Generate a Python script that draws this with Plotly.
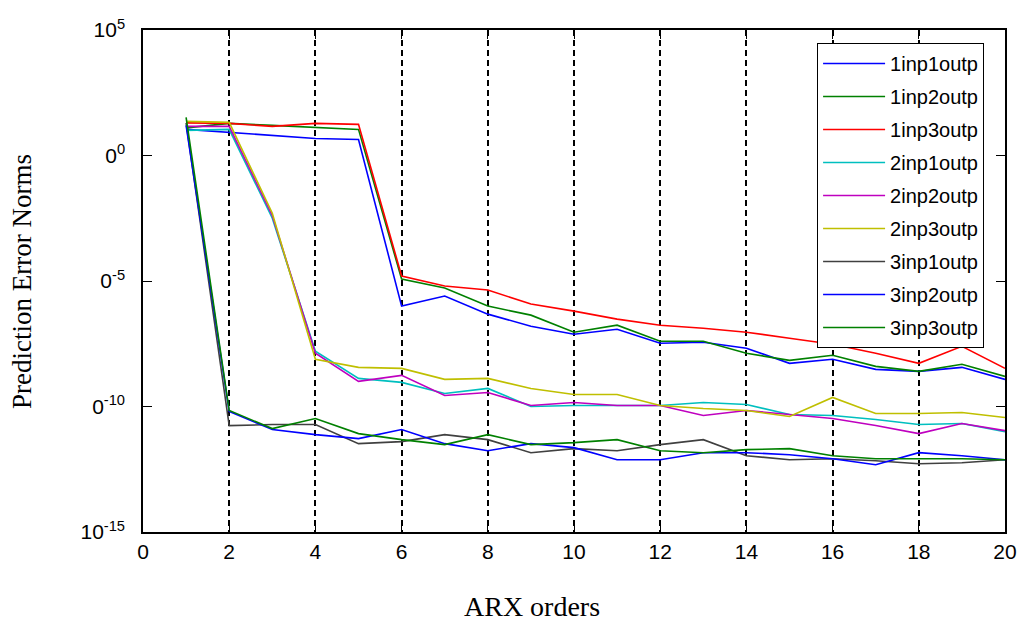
import numpy as np
import plotly.graph_objects as go

# ARX orders
orders = list(range(1, 21))

# log10 of prediction error norms
log_1inp1outp = [1.04, 0.92, 0.80, 0.68, 0.64, -6.00, -5.60, -6.32, -6.80, -7.12,
                 -6.92, -7.48, -7.44, -7.68, -8.28, -8.12, -8.52, -8.60, -8.44, -8.92]
log_1inp2outp = [1.10, 1.28, 1.20, 1.12, 1.04, -4.92, -5.28, -6.00, -6.36, -7.04,
                 -6.76, -7.40, -7.40, -7.88, -8.16, -7.96, -8.40, -8.60, -8.32, -8.80]
log_1inp3outp = [1.30, 1.28, 1.16, 1.28, 1.24, -4.80, -5.20, -5.36, -5.92, -6.20,
                 -6.52, -6.76, -6.88, -7.04, -7.28, -7.52, -7.88, -8.28, -7.60, -8.48]
log_2inp1outp = [1.00, 1.04, -2.50, -7.80, -8.88, -9.04, -9.48, -9.28, -10.00, -9.96,
                 -9.96, -9.96, -9.84, -9.92, -10.32, -10.36, -10.52, -10.72, -10.68, -11.00]
log_2inp2outp = [1.16, 1.16, -2.40, -7.88, -9.00, -8.76, -9.56, -9.44, -9.96, -9.84,
                 -9.96, -9.96, -10.36, -10.16, -10.32, -10.48, -10.76, -11.08, -10.68, -10.96]
log_2inp3outp = [1.36, 1.32, -2.30, -8.12, -8.44, -8.48, -8.92, -8.88, -9.28, -9.52,
                 -9.52, -9.96, -10.08, -10.16, -10.40, -9.64, -10.28, -10.28, -10.24, -10.44]
log_3inp1outp = [1.30, -10.76, -10.72, -10.72, -11.48, -11.40, -11.12, -11.32, -11.84, -11.68,
                 -11.76, -11.52, -11.32, -11.96, -12.12, -12.08, -12.16, -12.28, -12.24, -12.12]
log_3inp2outp = [1.20, -10.20, -10.92, -11.12, -11.28, -10.92, -11.48, -11.76, -11.48, -11.64,
                 -12.12, -12.12, -11.84, -11.84, -11.92, -12.08, -12.32, -11.84, -11.96, -12.12]
log_3inp3outp = [1.52, -10.16, -10.88, -10.48, -11.08, -11.32, -11.52, -11.12, -11.52, -11.44,
                 -11.32, -11.76, -11.84, -11.72, -11.68, -11.96, -12.08, -12.08, -12.08, -12.12]

series_names = ["1inp1outp", "1inp2outp", "1inp3outp", "2inp1outp", "2inp2outp",
                "2inp3outp", "3inp1outp", "3inp2outp", "3inp3outp"]
series_logs = [log_1inp1outp, log_1inp2outp, log_1inp3outp, log_2inp1outp, log_2inp2outp,
               log_2inp3outp, log_3inp1outp, log_3inp2outp, log_3inp3outp]
series_colors = ["#0000FF", "#008000", "#FF0000", "#00BFBF", "#BF00BF",
                 "#BFBF00", "#404040", "#0000FF", "#008000"]

y_tickvals = [1e5, 1e0, 1e-5, 1e-10, 1e-15]
y_ticktext = ["10<sup>5</sup>", "0<sup>0</sup>", "0<sup>-5</sup>", "0<sup>-10</sup>", "10<sup>-15</sup>"]
x_tickvals = list(range(0, 21, 2))

sans = "Liberation Sans, Arial, sans-serif"
serif = "Liberation Serif, Times New Roman, serif"

fig = go.Figure()
for name, logs, col in zip(series_names, series_logs, series_colors):
    fig.add_trace(go.Scatter(
        x=orders, y=np.power(10.0, logs), mode="lines", name=name,
        legendgroup=name,
        line=dict(color=col, width=1.6),
    ))

fig.update_layout(
    width=1020, height=623,
    margin=dict(l=143, r=15, t=30, b=91, autoexpand=False),
    paper_bgcolor="white", plot_bgcolor="white",
    font=dict(family=sans, size=21, color="black"),
    showlegend=True,
    legend=dict(
        x=0.782, y=0.974, xanchor="left", yanchor="top",
        bgcolor="white", bordercolor="black", borderwidth=1,
        font=dict(family=sans, size=20, color="black"),
        itemwidth=62, traceorder="grouped", tracegroupgap=4,
    ),
    xaxis=dict(
        range=[0, 20], tickvals=x_tickvals, ticks="inside", ticklen=9,
        tickcolor="black", showline=True, linecolor="black", linewidth=1.5,
        mirror="ticks", showgrid=True, gridcolor="black", gridwidth=1.5,
        griddash="6px,4px", zeroline=False, tickfont=dict(size=21),
        automargin=False,
    ),
    yaxis=dict(
        type="log", range=[-15, 5], tickvals=y_tickvals, ticktext=y_ticktext,
        ticks="inside", ticklen=9, tickcolor="black", showline=True,
        linecolor="black", linewidth=1.5, mirror="ticks", showgrid=False,
        zeroline=False, tickfont=dict(size=21), ticklabelstandoff=12,
        automargin=False,
    ),
    annotations=[
        dict(text="Prediction Error Norms", xref="paper", yref="paper",
             x=-0.1404, y=0.5, xanchor="center", yanchor="middle", textangle=-90,
             showarrow=False, font=dict(family=serif, size=27, color="black")),
        dict(text="ARX orders", xref="paper", yref="paper",
             x=0.451, y=-0.149, xanchor="center", yanchor="middle",
             showarrow=False, font=dict(family=serif, size=28, color="black")),
    ],
)

fig.write_html("out.html")
